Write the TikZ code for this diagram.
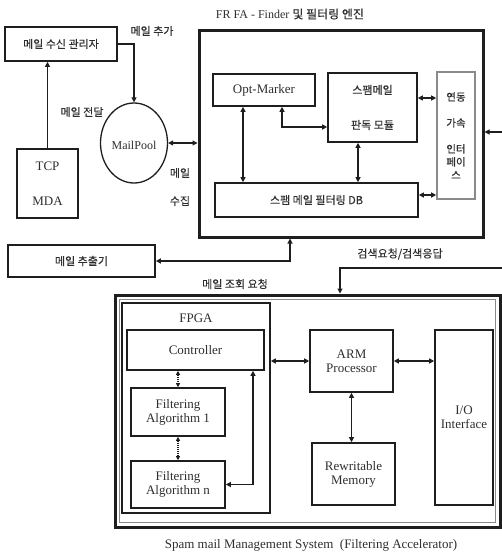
\documentclass[tikz,border=0pt]{standalone}
\usepackage{fontspec}
\setmainfont{Liberation Serif}
\newfontfamily\kr[FakeBold=0.4]{Noto Sans CJK KR}
\usetikzlibrary{shapes.geometric,arrows.meta}
\definecolor{ln}{HTML}{1E1E1E}
\definecolor{tx}{HTML}{2E2E2E}
\definecolor{gr}{HTML}{8A8A8A}
\tikzset{
  box/.style={draw=ln, line width=1.6pt, inner sep=0pt, text=tx, align=center, font=\fontsize{13}{14}\selectfont},
  kbox/.style={box, font=\kr\fontsize{11}{13}\selectfont},
  lbl/.style={inner sep=0pt, text=tx, font=\kr\fontsize{11}{13}\selectfont},
  elbl/.style={inner sep=0pt, text=tx, font=\fontsize{13}{14}\selectfont},
  con/.style={draw=ln, line width=1.1pt, -{Triangle[length=5pt,width=5pt]}},
  con2/.style={draw=ln, line width=1.1pt, {Triangle[length=5pt,width=5pt]}-{Triangle[length=5pt,width=5pt]}},
  dcon/.style={draw=ln, line width=1.1pt, densely dotted, {Triangle[length=4pt,width=4pt]}-{Triangle[length=4pt,width=4pt]}}
}
\begin{document}
\begin{tikzpicture}[x=1pt,y=-1pt]
\useasboundingbox (0,0) rectangle (502,556);
% helper coordinates
\coordinate (y98) at (0,98);
\coordinate (y127) at (0,127);
\coordinate (y195) at (0,195);
\coordinate (x243) at (243,0);
\coordinate (x282) at (282,0);
\coordinate (x358) at (358,0);
\coordinate (x290) at (290,0);
\coordinate (x340) at (340,0);
\coordinate (x253) at (253,0);
% upper part
\node[kbox, minimum width=112pt, minimum height=34pt] (mgr) at (61,44) {메일 수신 관리자};
\node[box, minimum width=61pt, minimum height=69pt] (tcp) at (47.5,183.5) {TCP\\[21pt]MDA};
\node[box, ellipse, minimum width=67pt, minimum height=80pt, line width=1.3pt] (pool) at (134,143) {};
\node[elbl, font=\fontsize{12}{13}\selectfont] (pooltxt) at (134,145) {MailPool};
\node[draw=ln, line width=3pt, minimum width=284pt, minimum height=206pt, inner sep=0pt] (frfa) at (341,134) {};
\node[elbl, font=\fontsize{12}{13}\selectfont] (title) at (290,14) {FR FA - Finder {\kr 및 필터링 엔진}};
\node[box, minimum width=102pt, minimum height=32pt] (opt) at (264,90) {Opt-Marker};
\node[kbox, minimum width=89pt, minimum height=69pt] (jud) at (372.5,107.5) {스팸메일\\[22pt]판독 모듈};
\node[kbox, draw=gr, minimum width=38pt, minimum height=127pt, font=\kr\fontsize{10.5}{13}\selectfont] (intf) at (456,135.5) {연동\\[13pt]가속\\[13pt]인터\\페이\\스};
\node[kbox, minimum width=203pt, minimum height=34pt] (db) at (316.5,200) {스팸 메일 필터링 DB};
\node[kbox, minimum width=147pt, minimum height=32pt] (ext) at (81.5,261) {메일 추출기};
% labels upper
\node[lbl] (l1) at (152,31) {메일 추가};
\node[lbl] (l2) at (82,112) {메일 전달};
\node[lbl] (l3) at (180,173) {메일};
\node[lbl] (l4) at (180,201) {수집};
\node[lbl] (l5) at (235,284) {메일 조회 요청};
\node[lbl] (l6) at (400,254) {검색요청/검색응답};
% lower system
\node[draw=ln, line width=3pt, minimum width=385pt, minimum height=232pt, inner sep=0pt] (sys) at (307.5,411) {};
\node[draw=gr, line width=0.9pt, minimum width=376pt, minimum height=223pt, inner sep=0pt] (sysin) at (307.5,411) {};
\node[draw=ln, line width=1.6pt, minimum width=148pt, minimum height=210pt, inner sep=0pt] (fpga) at (196,408) {};
\node[elbl] (fpgatxt) at (196,318) {FPGA};
\node[box, minimum width=137pt, minimum height=40pt] (ctrl) at (195.5,350) {Controller};
\node[box, minimum width=94pt, minimum height=48pt] (alg1) at (178,412) {Filtering\\Algorithm 1};
\node[box, minimum width=94pt, minimum height=47pt] (algn) at (178,484.5) {Filtering\\Algorithm n};
\node[box, minimum width=83pt, minimum height=62pt] (arm) at (351.5,361) {ARM\\Processor};
\node[box, minimum width=58pt, minimum height=175pt] (io) at (464,417.5) {I/O\\Interface};
\node[box, minimum width=83pt, minimum height=62pt] (mem) at (353.5,474) {Rewritable\\Memory};
\node[elbl] (cap) at (311,545) {Spam mail Management System\ \ (Filtering Accelerator)};
% free ends
\coordinate (rin) at (502,132);
\coordinate (rin2) at (502,268);
% connectors upper
\draw[con] (mgr.east) -| (pool.north);
\draw[con] (tcp.north) -- (tcp.north |- mgr.south);
\draw[con2] (pool.east) -- (pool.east -| frfa.west);
\draw[con] (rin) -- (rin -| frfa.east);
\draw[con2] (jud.east |- y98) -- (intf.west |- y98);
\draw[con2] (opt.south -| x243) -- (db.north -| x243);
\draw[con2] (opt.south -| x282) |- (jud.west |- y127);
\draw[con2] (jud.south -| x358) -- (db.north -| x358);
\draw[con2] (db.east |- y195) -- (intf.west |- y195);
\draw[con2] (frfa.south -| x290) |- (ext.east);
\draw[con] (rin2) -| (sys.north -| x340);
% connectors lower
\draw[con2] (fpga.east |- arm.west) -- (arm.west);
\draw[con2] (arm.east) -- (arm.east -| io.west);
\draw[con2] (arm.south) -- (arm.south |- mem.north);
\draw[dcon] (ctrl.south -| alg1.north) -- (alg1.north);
\draw[dcon] (alg1.south) -- (algn.north);
\draw[con2] (algn.east) -| (ctrl.south -| x253);
\end{tikzpicture}
\end{document}
